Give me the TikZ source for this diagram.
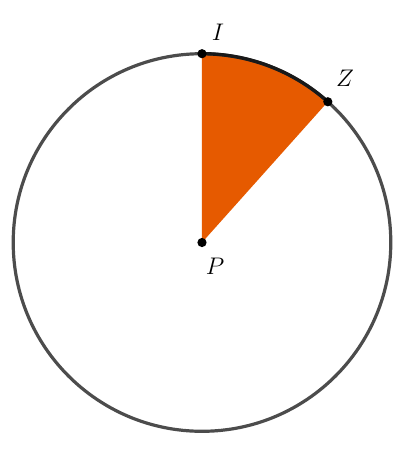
\documentclass[tikz,border=0pt]{standalone}
\usetikzlibrary{calc}
\begin{document}
\begin{tikzpicture}[x=0.5pt,y=-0.5pt,
  circ/.style={draw=black!70,line width=1.6pt},
  arcline/.style={draw=black!90,line width=1.7pt},
  dot/.style={circle,fill=black,inner sep=0pt,minimum size=4.6pt},
  lbl/.style={inner sep=0pt,font=\large}]
\definecolor{sectorc}{RGB}{230,90,0}
\useasboundingbox (0,0) rectangle (408,457);
\coordinate (P) at (202,242.5);
\def\R{94.4pt}
\fill[sectorc] (P) -- ++(90:\R) arc[start angle=90,end angle=48.2,radius=\R] -- cycle;
\draw[circ] (P) circle[radius=\R];
\draw[arcline] (P) ++(90:\R) arc[start angle=90,end angle=48.2,radius=\R];
\node[dot] (p) at (P) {};
\node[dot] (i) at ($(P)+(90:\R)$) {};
\node[dot] (z) at ($(P)+(48.2:\R)$) {};
\node[lbl] (li) at (218,32) {$I$};
\node[lbl] (lz) at (345,78) {$Z$};
\node[lbl] (lp) at (215,266) {$P$};
\end{tikzpicture}
\end{document}
